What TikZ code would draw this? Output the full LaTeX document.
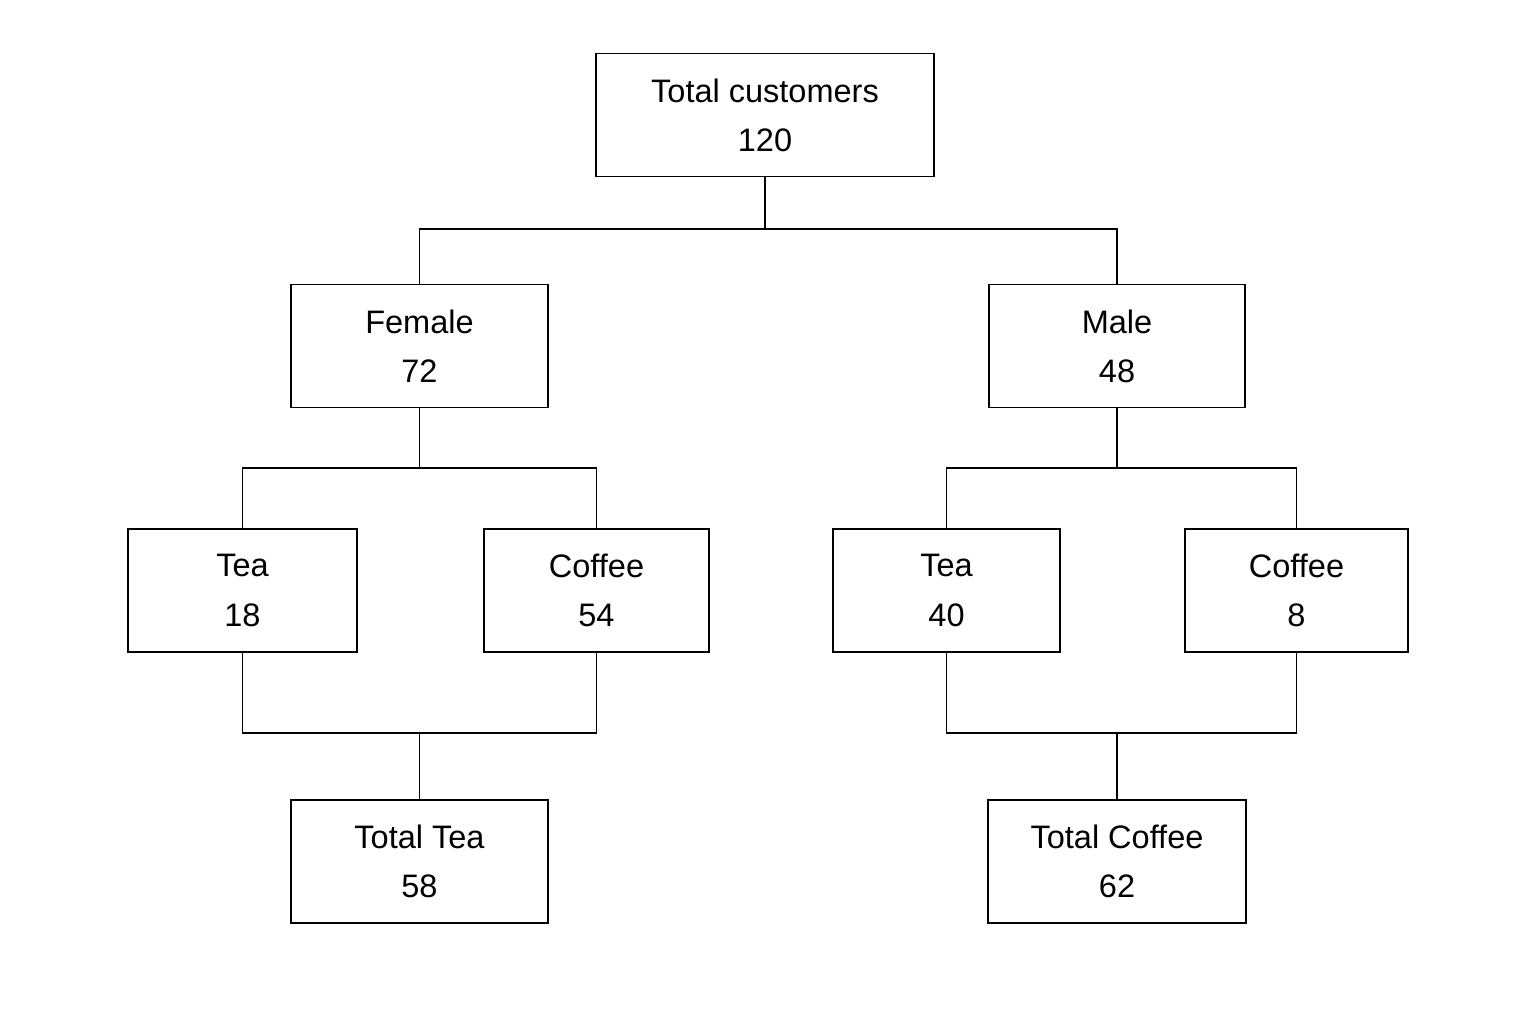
\documentclass[tikz,border=0pt]{standalone}
\usepackage{fontspec}
\setmainfont{Liberation Sans}
\usetikzlibrary{positioning}

\begin{document}
\begin{tikzpicture}[
        x=0.02cm, y=-0.02cm,
        line width=1.1pt,
        box/.style={rectangle, draw, minimum height=2.46cm, align=center,
                    font=\fontsize{18.5}{28}\selectfont}
    ]
        \useasboundingbox (0,0) rectangle (1536,1024);

        \node[box, minimum width=6.76cm] (total) at (765,115) {Total customers\\120};
        \node[box, minimum width=5.14cm] (female) at (419.5,346) {Female\\72};
        \node[box, minimum width=5.12cm] (male) at (1117,346) {Male\\48};

        \node[box, minimum width=4.58cm] (fTea) at (242.5,590.5) {Tea\\18};
        \node[box, minimum width=4.50cm] (fCoffee) at (596.5,590.5) {Coffee\\54};
        \node[box, minimum width=4.54cm] (mTea) at (946.5,590.5) {Tea\\40};
        \node[box, minimum width=4.46cm] (mCoffee) at (1296.5,590.5) {Coffee\\8};

        \node[box, minimum width=5.14cm] (totalTea) at (419.5,861.5) {Total Tea\\58};
        \node[box, minimum width=5.16cm] (totalCoffee) at (1117,861.5) {Total Coffee\\62};

        % Gender split
        \draw (total.south) -- ++(0,52) coordinate (split);
        \draw (split) -| (female.north);
        \draw (split) -| (male.north);

        % Drink split
        \draw (female.south) -- ++(0,60) coordinate (fSplit);
        \draw (fSplit) -| (fTea.north);
        \draw (fSplit) -| (fCoffee.north);
        \draw (male.south) -- ++(0,60) coordinate (mSplit);
        \draw (mSplit) -| (mTea.north);
        \draw (mSplit) -| (mCoffee.north);

        % Totals
        \draw (fTea.south) -- ++(0,80) -| (fCoffee.south);
        \draw (totalTea.north) -- ++(0,-67);
        \draw (mTea.south) -- ++(0,80) -| (mCoffee.south);
        \draw (totalCoffee.north) -- ++(0,-67);
    \end{tikzpicture}
\end{document}
